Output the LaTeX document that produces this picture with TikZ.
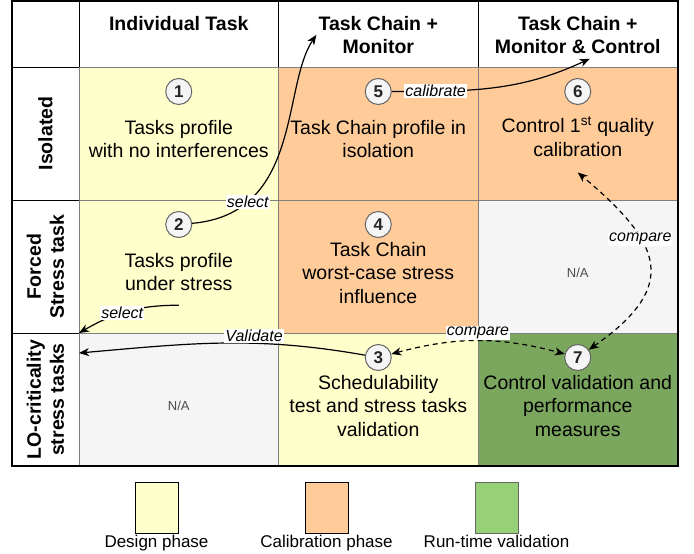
\documentclass[tikz,border=0pt]{standalone}
\usepackage{fontspec}
\setmainfont{Liberation Sans}
\usetikzlibrary{positioning, arrows.meta}

\definecolor{designfill}{HTML}{FFFFCC}
\definecolor{calibfill}{HTML}{FFCC99}
\definecolor{runfill}{HTML}{97D077}
\definecolor{validfill}{HTML}{7BA65D}
\definecolor{nafill}{HTML}{F5F5F5}
\definecolor{gridline}{HTML}{7F7F7F}

\begin{document}
\begin{tikzpicture}[x=1pt, y=1pt, node distance=0pt, >={Stealth[length=10pt, width=8pt, inset=3pt]},
    hdr/.style={draw=black, fill=white, rectangle, inner sep=0pt, outer sep=0pt, line width=1pt},
    cell/.style={draw=gridline, rectangle, inner sep=0pt, outer sep=0pt, line width=1pt,
        minimum width=199.5pt, minimum height=133pt},
    hdrtext/.style={font=\fontsize{19.5}{23}\selectfont\bfseries, align=center, inner sep=2pt},
    body/.style={font=\fontsize{19.5}{23.5}\selectfont, align=center, inner sep=2pt},
    num/.style={draw=black!60, fill=nafill, circle, minimum size=26pt, inner sep=0pt, line width=1pt,
        font=\fontsize{17}{17}\selectfont\bfseries, text=black!85},
    na/.style={font=\fontsize{13}{13}\selectfont, text=black!70},
    lbl/.style={font=\fontsize{16}{16}\selectfont\itshape, fill=white, inner sep=1pt},
    link/.style={->, line width=1.2pt},
    cmp/.style={<->, dashed, dash pattern=on 5pt off 4pt, line width=1.2pt},
    legbox/.style={draw=black, rectangle, minimum width=43pt, minimum height=51pt, line width=1pt},
    legtext/.style={font=\fontsize{17}{17}\selectfont, inner sep=1pt}]
    \useasboundingbox (0,0) rectangle (694,-554);

    % Header cells
    \node[hdr, minimum width=67pt, minimum height=66pt, anchor=north west] (corner) at (12,-1) {};
    \node[hdr, minimum width=199.5pt, minimum height=66pt, right=of corner] (h1) {};
    \node[hdr, minimum width=199.5pt, minimum height=66pt, right=of h1] (h2) {};
    \node[hdr, minimum width=199.5pt, minimum height=66pt, right=of h2] (h3) {};
    \node[hdr, minimum width=67pt, minimum height=133pt, below=of corner] (r1) {};
    \node[hdr, minimum width=67pt, minimum height=133pt, below=of r1] (r2) {};
    \node[hdr, minimum width=67pt, minimum height=133pt, below=of r2] (r3) {};

    % Body cells
    \node[cell, fill=designfill, below=of h1] (c11) {};
    \node[cell, fill=calibfill, below=of h2] (c12) {};
    \node[cell, fill=calibfill, below=of h3] (c13) {};
    \node[cell, fill=designfill, below=of c11] (c21) {};
    \node[cell, fill=calibfill, below=of c12] (c22) {};
    \node[cell, fill=nafill, below=of c13] (c23) {};
    \node[cell, fill=nafill, below=of c21] (c31) {};
    \node[cell, fill=designfill, below=of c22] (c32) {};
    \node[cell, fill=validfill, below=of c23] (c33) {};
    \draw[line width=2pt] (corner.north west) rectangle (c33.south east);

    % Header texts
    \node[hdrtext, below=13pt of h1.north] (hl1) {Individual Task};
    \node[hdrtext, below=13pt of h2.north] (hl2) {Task Chain +\\Monitor};
    \node[hdrtext, below=13pt of h3.north] (hl3) {Task Chain +\\Monitor \& Control};
    \node[hdrtext, rotate=90] (rl1) at (r1) {Isolated};
    \node[hdrtext, rotate=90] (rl2) at (r2) {Forced\\Stress task};
    \node[hdrtext, rotate=90] (rl3) at (r3) {LO-criticality\\stress tasks};

    % Steps
    \node[num, below=11pt of c11.north] (n1) {1};
    \node[num, below=11pt of c21.north] (n2) {2};
    \node[num, below=11pt of c32.north] (n3) {3};
    \node[num, below=11pt of c22.north] (n4) {4};
    \node[num, below=11pt of c12.north] (n5) {5};
    \node[num, below=11pt of c13.north] (n6) {6};
    \node[num, below=11pt of c33.north] (n7) {7};

    \node[body, below=51pt of c11.north] (t1) {Tasks profile\\with no interferences};
    \node[body, below=51pt of c21.north] (t2) {Tasks profile\\under stress};
    \node[body, below=40pt of c32.north] (t3) {Schedulability\\test and stress tasks\\validation};
    \node[body, below=40pt of c22.north] (t4) {Task Chain\\worst-case stress\\influence};
    \node[body, below=51pt of c12.north] (t5) {Task Chain profile in\\isolation};
    \node[body, below=47pt of c13.north] (t6) {Control 1\textsuperscript{st} quality\\calibration};
    \node[body, below=40pt of c33.north] (t7) {Control validation and\\performance\\measures};
    \node[na] (na1) at ([yshift=-6pt]c23.center) {N/A};
    \node[na] (na2) at ([yshift=-6pt]c31.center) {N/A};

    % Paths
    \path[link] (n2) edge[out=5, in=-124, out looseness=1.25, in looseness=0.7]
        node[lbl, pos=0.22] {select} (hl2.west);
    \path[link] ([yshift=-12pt]t2.south) edge[out=180, in=30]
        node[lbl, pos=0.55] {select} (c31.north west);
    \path[link] (n3) edge[out=170, in=5]
        node[lbl, pos=0.38, above] {Validate} ([yshift=-20pt]r3.north east);
    \path[link] (n5) edge[out=0, in=-155]
        node[lbl, pos=0.2] {calibrate} ([xshift=12pt, yshift=-3pt]hl3.south);
    \path[cmp] (n3) edge[bend left=15] node[lbl, midway, above] {compare} (n7);
    \path[cmp] (n7) edge[out=35, in=-40, looseness=1.6]
        node[lbl, pos=0.65] {compare} ([yshift=-14pt]t6.south);

    % Legend
    \node[legbox, fill=designfill] (leg1) at (156.5,-507.5) {};
    \node[legbox, fill=calibfill] (leg2) at (326.5,-507.5) {};
    \node[legbox, fill=runfill, draw=black!60] (leg3) at (496.5,-507.5) {};
    \node[legtext, below=0pt of leg1] (lt1) {Design phase};
    \node[legtext, below=0pt of leg2] (lt2) {Calibration phase};
    \node[legtext, below=0pt of leg3] (lt3) {Run-time validation};
\end{tikzpicture}
\end{document}
